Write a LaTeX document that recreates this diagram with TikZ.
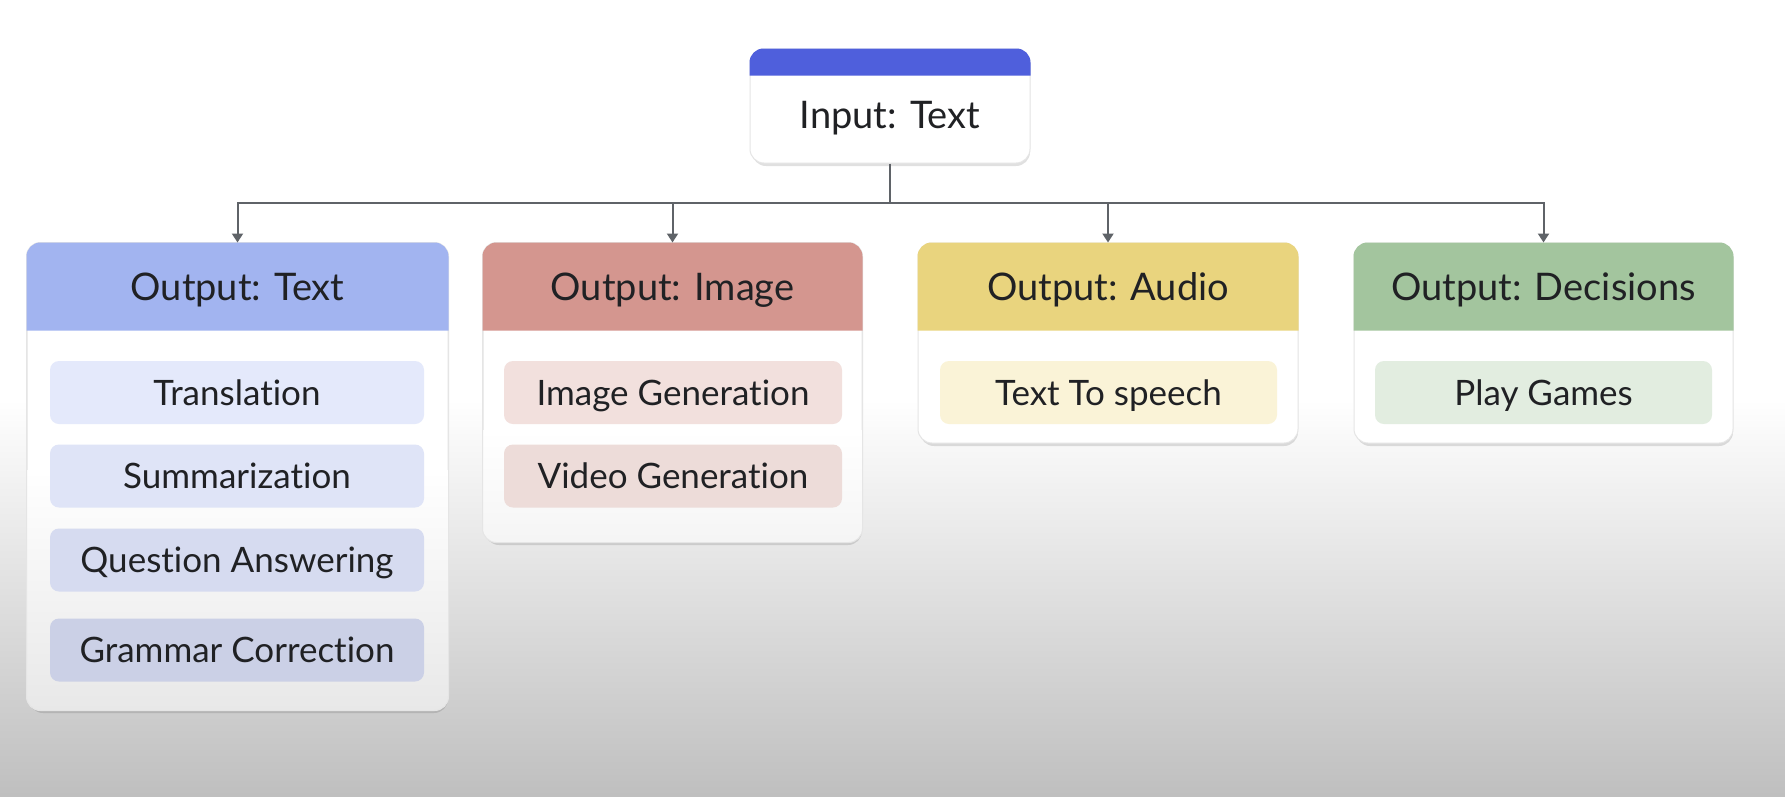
\documentclass[tikz,border=0pt]{standalone}
\usepackage{fontspec}
\setmainfont{Lato}[Ligatures={NoCommon,NoRare}]
\usetikzlibrary{arrows.meta,calc}
\definecolor{bgbot}{HTML}{BFBFBF}
\definecolor{txtc}{HTML}{202124}
\definecolor{linec}{HTML}{5F6368}
\definecolor{inhead}{HTML}{4F5FDC}
\definecolor{hdA}{HTML}{A2B4F0}
\definecolor{hdB}{HTML}{D4968F}
\definecolor{hdC}{HTML}{E9D47E}
\definecolor{hdD}{HTML}{A3C59E}
\definecolor{iA1}{HTML}{E4E9FB}
\definecolor{iA2}{HTML}{DFE4F7}
\definecolor{iA3}{HTML}{D6DBF0}
\definecolor{iA4}{HTML}{CBD0E6}
\definecolor{iB1}{HTML}{F2E0DD}
\definecolor{iB2}{HTML}{EDDCD9}
\definecolor{iC1}{HTML}{FAF3D7}
\definecolor{iD1}{HTML}{E2EDE0}
\begin{document}
\begin{tikzpicture}[x=1pt,y=-1pt,
  outbox/.style={rounded corners=14pt, inner sep=0pt, draw=black!10, line width=1pt, fill=white},
  hdtxt/.style={font=\fontsize{38}{44}\selectfont, text=txtc, inner sep=0pt, text height=27pt, text depth=0pt},
  itembox/.style={rounded corners=9pt, inner sep=0pt, minimum height=63pt, font=\fontsize{35}{40}\selectfont, text=txtc, text height=25pt, text depth=0pt},
  conn/.style={draw=linec, line width=2pt},
  arr/.style={conn, -{Triangle[width=11pt,length=9pt]}},
  shadowbox/.style={fill=black, opacity=0.12, rounded corners=14pt}]
% background
\useasboundingbox (0,0) rectangle (1785,796);
\fill[white] (0,0) rectangle (1785,400);
\shade[top color=white, bottom color=bgbot] (0,399) rectangle (1785,796);

% shadows
\fill[shadowbox] (752,53) rectangle (1030,166);
\fill[shadowbox] (29,247) rectangle (448,713);
\fill[shadowbox] (485,247) rectangle (862,545);
\fill[shadowbox] (920,247) rectangle (1298,446);
\fill[shadowbox] (1356,247) rectangle (1733,446);

% input box
\node[outbox, minimum width=280pt, minimum height=114pt] (inp) at (890,106) {};
\fill[inhead] ($(inp.north west)+(0,27)$) [rounded corners=14pt] -- (inp.north west) -- (inp.north east) [sharp corners] -- ($(inp.north east)+(0,27)$) -- cycle;
\node[hdtxt] (inpt) at (890,114.5) {Input: Text};

% output boxes
\node[outbox, minimum width=421pt, minimum height=467pt] (o1) at (237.5,476.5) {};
\node[outbox, minimum width=379pt, minimum height=299pt] (o2) at (672.5,392.5) {};
\node[outbox, minimum width=380pt, minimum height=200pt] (o3) at (1108,343) {};
\node[outbox, minimum width=379pt, minimum height=200pt] (o4) at (1543.5,343) {};

% lower greying of the tall boxes
\begin{scope}
  \clip[rounded corners=14pt] (o1.north west) rectangle (o1.south east);
  \shade[top color=white, bottom color=black!9] (o1.west |- 0,470) rectangle (o1.south east);
\end{scope}
\begin{scope}
  \clip[rounded corners=14pt] (o2.north west) rectangle (o2.south east);
  \shade[top color=white, bottom color=black!4] (o2.west |- 0,430) rectangle (o2.south east);
\end{scope}
\draw[black!10, line width=1pt, rounded corners=14pt] (o1.north west) rectangle (o1.south east);
\draw[black!10, line width=1pt, rounded corners=14pt] (o2.north west) rectangle (o2.south east);

\foreach \b/\c in {o1/hdA, o2/hdB, o3/hdC, o4/hdD}{
  \fill[\c] ($(\b.north west)+(0,88)$) [rounded corners=14pt] -- (\b.north west) -- (\b.north east) [sharp corners] -- ($(\b.north east)+(0,88)$) -- cycle;
}
\node[hdtxt] (h1) at ($(o1.north)+(0,44.5)$) {Output: Text};
\node[hdtxt] (h2) at ($(o2.north)+(0,44.5)$) {Output: Image};
\node[hdtxt] (h3) at ($(o3.north)+(0,44.5)$) {Output: Audio};
\node[hdtxt] (h4) at ($(o4.north)+(0,44.5)$) {Output: Decisions};

% items
\node[itembox, fill=iA1, minimum width=374pt] (a1) at (237,392.5) {Translation};
\node[itembox, fill=iA2, minimum width=374pt] (a2) at (237,476) {Summarization};
\node[itembox, fill=iA3, minimum width=374pt] (a3) at (237,560) {Question Answering};
\node[itembox, fill=iA4, minimum width=374pt] (a4) at (237,650) {Grammar Correction};
\node[itembox, fill=iB1, minimum width=338pt] (b1) at (673,392.5) {Image Generation};
\node[itembox, fill=iB2, minimum width=338pt] (b2) at (673,476) {Video Generation};
\node[itembox, fill=iC1, minimum width=337pt] (c1) at (1108.5,392.5) {Text To speech};
\node[itembox, fill=iD1, minimum width=337pt] (d1) at (1543.5,392.5) {Play Games};

% connectors
\coordinate (bus) at (890,203);
\draw[conn] (inp.south) -- (bus);
\foreach \b in {o1,o2,o3,o4}{
  \draw[arr] (bus) -| (\b.north);
}
\end{tikzpicture}
\end{document}
